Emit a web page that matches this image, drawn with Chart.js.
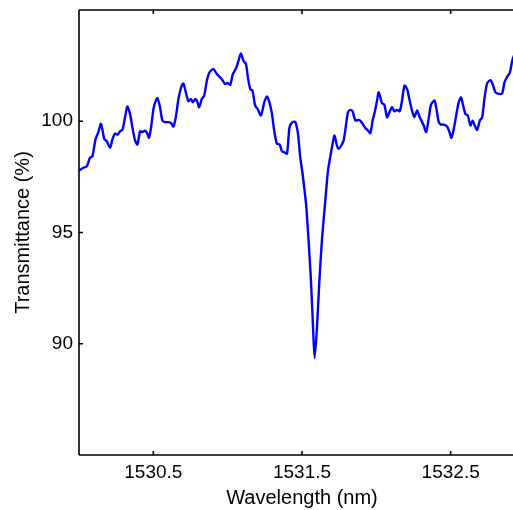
<!DOCTYPE html>
<html>
<head>
<meta charset="utf-8">
<script src="https://cdn.jsdelivr.net/npm/chart.js@4"></script>
<style>
html,body{margin:0;padding:0;background:#fff;overflow:hidden;}
#wrap{width:513px;height:510px;overflow:hidden;position:relative;}
canvas{display:block;}
</style>
</head>
<body>
<div id="wrap"><canvas id="c" width="525" height="510"></canvas></div>
<script>
const wavelength = [
1530.000,1530.029,1530.052,1530.074,1530.090,1530.112,1530.130,1530.148,1530.170,1530.187,
1530.209,1530.224,1530.242,1530.261,1530.276,1530.292,1530.310,1530.325,1530.343,1530.359,
1530.377,1530.393,1530.411,1530.426,1530.444,1530.460,1530.471,1530.485,1530.503,1530.527,
1530.545,1530.561,1530.579,1530.601,1530.620,1530.635,1530.651,1530.669,1530.687,1530.702,
1530.721,1530.736,1530.752,1530.766,1530.781,1530.793,1530.808,1530.826,1530.842,1530.860,
1530.877,1530.904,1530.927,1530.949,1530.968,1530.983,1530.999,1531.017,1531.035,1531.057,
1531.073,1531.089,1531.106,1531.123,1531.136,1531.152,1531.167,1531.185,1531.201,1531.224,
1531.246,1531.264,1531.281,1531.298,1531.313,1531.331,1531.349,1531.365,1531.380,1531.399,
1531.416,1531.436,1531.455,1531.473,1531.488,1531.504,1531.517,1531.529,1531.544,1531.560,
1531.574,1531.585,1531.601,1531.616,1531.634,1531.657,1531.675,1531.690,1531.706,1531.719,
1531.735,1531.746,1531.764,1531.780,1531.791,1531.809,1531.825,1531.840,1531.859,1531.877,
1531.892,1531.908,1531.926,1531.944,1531.960,1531.975,1531.989,1532.005,1532.015,1532.027,
1532.038,1532.054,1532.072,1532.088,1532.106,1532.121,1532.139,1532.157,1532.173,1532.189,
1532.207,1532.222,1532.240,1532.256,1532.274,1532.292,1532.308,1532.319,1532.335,1532.352,
1532.368,1532.391,1532.404,1532.420,1532.436,1532.453,1532.476,1532.492,1532.505,1532.521,
1532.539,1532.554,1532.570,1532.584,1532.599,1532.615,1532.633,1532.648,1532.662,1532.678,
1532.696,1532.712,1532.727,1532.745,1532.768,1532.786,1532.801,1532.824,1532.846,1532.862,
1532.880,1532.898,1532.914,1532.925,1532.950
];
const transmittance = [
97.79,97.91,97.97,98.36,98.42,99.21,99.51,99.88,99.21,99.10,
98.81,99.17,99.44,99.40,99.55,99.61,100.18,100.66,100.33,99.73,
99.14,98.96,99.55,99.51,99.58,99.44,99.26,99.73,100.63,101.05,
100.63,100.03,99.96,99.96,99.91,99.76,100.18,101.00,101.52,101.70,
101.23,100.90,101.00,100.85,101.00,100.93,100.63,101.00,101.15,101.82,
102.19,102.35,102.12,101.97,101.82,101.67,101.72,101.64,102.12,102.39,
102.72,103.05,102.72,102.57,101.97,101.45,101.37,100.70,100.56,100.26,
100.85,101.12,100.85,100.33,99.58,98.99,98.96,98.66,98.61,98.54,
99.73,99.96,99.96,99.44,98.39,97.64,96.90,96.15,94.66,92.87,
90.77,89.36,90.77,92.72,94.66,96.45,97.79,98.39,98.99,99.36,
98.91,98.76,98.91,99.14,99.58,100.40,100.51,100.45,100.03,100.06,
100.03,99.88,99.70,99.58,99.46,100.03,100.40,100.93,101.30,101.07,
100.81,100.75,100.18,100.40,100.63,100.45,100.51,100.45,100.93,101.60,
101.45,101.00,100.48,100.18,100.48,100.18,99.96,99.81,99.51,100.11,
100.75,100.93,100.56,99.96,99.85,99.85,99.76,99.51,99.26,99.66,
100.33,100.85,101.07,100.70,100.33,100.26,99.81,100.03,99.81,99.61,
100.03,100.18,101.00,101.70,101.85,101.60,101.30,101.23,101.25,101.75,
102.00,102.19,102.72,102.94,103.30
];
const xTicks = [1530.5, 1531.5, 1532.5];
const yTicks = [90, 95, 100];
const xRange = [1530, 1533];
const yRange = [85, 105];
const xTitle = 'Wavelength (nm)';
const yTitle = 'Transmittance (%)';

const points = wavelength.map((w, i) => ({x: w, y: transmittance[i]}));
const FONT = {family: '"Liberation Sans", Arial, sans-serif', size: 19};
const TFONT = {family: '"Liberation Sans", Arial, sans-serif', size: 20};

const boxPlugin = {
  id: 'box',
  afterDraw(chart) {
    const ctx = chart.ctx, a = chart.chartArea;
    const xs = chart.scales.x, ys = chart.scales.y;
    const L = 4;
    ctx.save();
    ctx.strokeStyle = '#000';
    ctx.lineWidth = 1.6;
    ctx.beginPath();
    ctx.moveTo(a.left, a.top); ctx.lineTo(a.right, a.top);
    ctx.moveTo(a.left, a.top); ctx.lineTo(a.left, a.bottom);
    ctx.moveTo(a.left, a.bottom); ctx.lineTo(a.right, a.bottom);
    ctx.moveTo(a.right, a.top); ctx.lineTo(a.right, a.bottom);
    xTicks.forEach(v => {
      const px = xs.getPixelForValue(v);
      ctx.moveTo(px, a.bottom); ctx.lineTo(px, a.bottom - L);
      ctx.moveTo(px, a.top); ctx.lineTo(px, a.top + L);
    });
    yTicks.forEach(v => {
      const py = ys.getPixelForValue(v);
      ctx.moveTo(a.left, py); ctx.lineTo(a.left + L, py);
      ctx.moveTo(a.right, py); ctx.lineTo(a.right - L, py);
    });
    ctx.stroke();
    ctx.restore();
  }
};

new Chart(document.getElementById('c'), {
  type: 'line',
  data: {
    datasets: [{
      data: points,
      borderColor: '#0000ff',
      borderWidth: 2.4,
      pointRadius: 0,
      tension: 0.25,
      fill: false
    }]
  },
  options: {
    responsive: false,
    animation: false,
    layout: {padding: {top: 10, right: 0, left: 0, bottom: 0}},
    plugins: {legend: {display: false}, tooltip: {enabled: false}},
    scales: {
      x: {
        type: 'linear',
        min: xRange[0], max: xRange[1],
        afterBuildTicks: s => { s.ticks = xTicks.map(v => ({value: v})); },
        afterFit: s => { s.height = 55; s.paddingLeft = 0; s.paddingRight = 0; },
        grid: {display: false, drawTicks: false},
        border: {display: false},
        ticks: {color: '#000', font: FONT, padding: 6, maxRotation: 0,
          callback: v => v.toFixed(1)},
        title: {display: true, text: xTitle, color: '#000', font: TFONT, padding: {top: 0, bottom: 0}}
      },
      y: {
        type: 'linear',
        min: yRange[0], max: yRange[1],
        afterBuildTicks: s => { s.ticks = yTicks.map(v => ({value: v})); },
        afterFit: s => { s.width = 79; s.paddingTop = 0; s.paddingBottom = 0; },
        grid: {display: false, drawTicks: false},
        border: {display: false},
        ticks: {color: '#000', font: FONT, padding: 6},
        title: {display: true, text: yTitle, color: '#000', font: TFONT, padding: {top: 11, bottom: 0}}
      }
    }
  },
  plugins: [boxPlugin]
});
</script>
</body>
</html>
